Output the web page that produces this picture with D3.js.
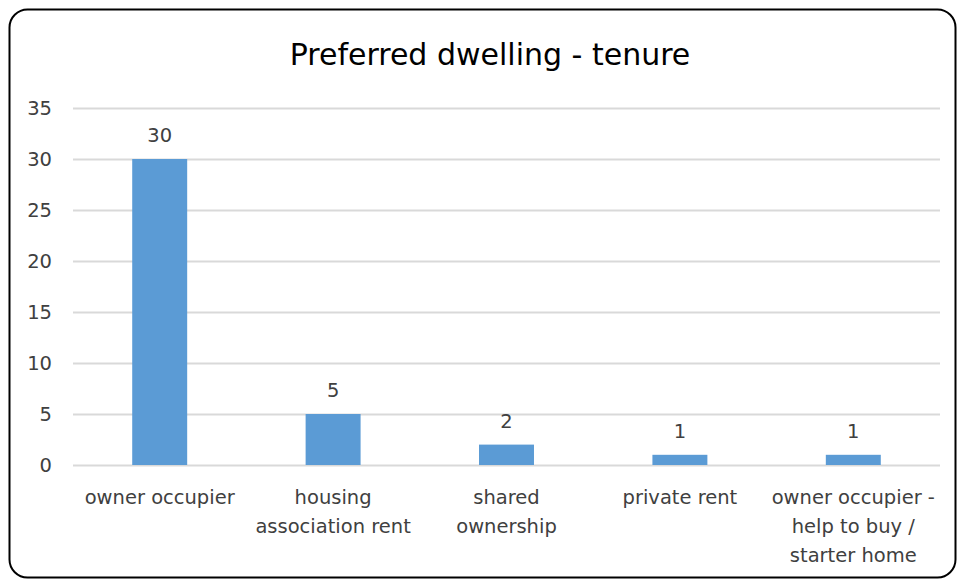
<!DOCTYPE html>
<html>
<head>
<meta charset="utf-8">
<script src="https://cdn.jsdelivr.net/npm/d3@7"></script>
<style>
  html, body { margin: 0; padding: 0; background: #fff; }
  svg { display: block; }
  text { font-family: "DejaVu Sans", sans-serif; }
</style>
</head>
<body>
<svg id="chart" width="960" height="580"></svg>
<script>
// Survey responses: preferred dwelling tenure
const categories = [
  ["owner occupier"],
  ["housing", "association rent"],
  ["shared", "ownership"],
  ["private rent"],
  ["owner occupier -", "help to buy /", "starter home"]
];
const values = [30, 5, 2, 1, 1];
const yTicks = [0, 5, 10, 15, 20, 25, 30, 35];
const title = "Preferred dwelling - tenure";

const FONT = "'DejaVu Sans', sans-serif";
const svg = d3.select("#chart");
const plot = { left: 73, right: 940, top: 108, bottom: 465 };

// Outer chart frame with rounded corners
svg.append("rect")
  .attr("x", 9.5).attr("y", 9.5)
  .attr("width", 946).attr("height", 568)
  .attr("rx", 18).attr("ry", 18)
  .attr("fill", "#fff")
  .attr("stroke", "#000")
  .attr("stroke-width", 2);

svg.append("text")
  .attr("x", 490).attr("y", 65)
  .attr("text-anchor", "middle")
  .attr("font-size", 30)
  .attr("fill", "#000")
  .text(title);

const x = d3.scaleBand()
  .domain(d3.range(categories.length))
  .range([plot.left, plot.right])
  .paddingInner(0.683)
  .paddingOuter(0.3415);

const y = d3.scaleLinear()
  .domain([0, 35])
  .range([plot.bottom, plot.top]);

// Horizontal gridlines and y tick labels
const yAxis = svg.append("g")
  .attr("transform", `translate(${plot.left},0)`)
  .call(d3.axisLeft(y).tickValues(yTicks).tickSize(-(plot.right - plot.left)).tickPadding(21));
yAxis.select(".domain").remove();
yAxis.selectAll(".tick line").attr("stroke", "#d9d9d9").attr("stroke-width", 2);
yAxis.selectAll(".tick text")
  .attr("font-size", 19.5)
  .attr("fill", "#404040")
  .attr("font-family", FONT);

// Bars
svg.append("g").selectAll("rect")
  .data(values)
  .join("rect")
  .attr("x", (d, i) => x(i))
  .attr("width", x.bandwidth())
  .attr("y", d => y(d))
  .attr("height", d => y(0) - y(d))
  .attr("fill", "#5b9bd5");

// Value labels above bars
svg.append("g").selectAll("text")
  .data(values)
  .join("text")
  .attr("x", (d, i) => x(i) + x.bandwidth() / 2)
  .attr("y", d => y(d) - 17)
  .attr("text-anchor", "middle")
  .attr("font-size", 19.5)
  .attr("fill", "#404040")
  .text(d => d);

// Category labels, wrapped onto multiple lines
const cat = svg.append("g").selectAll("text")
  .data(categories)
  .join("text")
  .attr("x", (d, i) => x(i) + x.bandwidth() / 2)
  .attr("y", 504)
  .attr("text-anchor", "middle")
  .attr("font-size", 19.5)
  .attr("fill", "#404040");
cat.selectAll("tspan")
  .data(d => d)
  .join("tspan")
  .attr("x", function () { return this.parentNode.getAttribute("x"); })
  .attr("dy", (d, j) => j === 0 ? 0 : 29)
  .text(d => d);
</script>
</body>
</html>
